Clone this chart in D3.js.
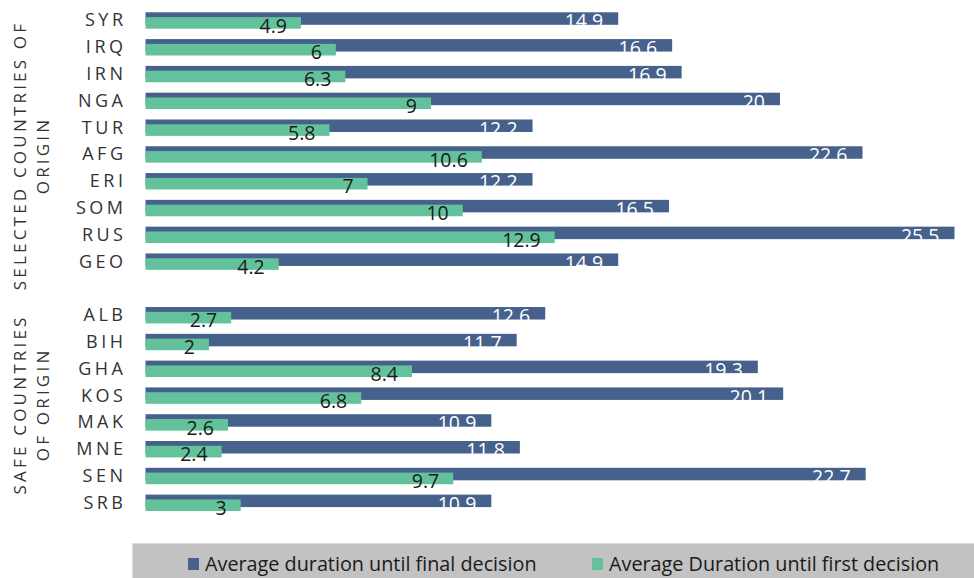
<!DOCTYPE html>
<html>
<head>
<meta charset="utf-8">
<script src="https://cdn.jsdelivr.net/npm/d3@7"></script>
<style>
  html, body { margin: 0; padding: 0; background: #fff; }
  svg { display: block; }
</style>
</head>
<body>
<svg id="chart" width="974" height="578"></svg>
<script>
// Asylum procedure durations (months) by country of origin
const selectedCountries = ["SYR", "IRQ", "IRN", "NGA", "TUR", "AFG", "ERI", "SOM", "RUS", "GEO"];
const selectedFinal = [14.9, 16.6, 16.9, 20, 12.2, 22.6, 12.2, 16.5, 25.5, 14.9];
const selectedFirst = [4.9, 6, 6.3, 9, 5.8, 10.6, 7, 10, 12.9, 4.2];

const safeCountries = ["ALB", "BIH", "GHA", "KOS", "MAK", "MNE", "SEN", "SRB"];
const safeFinal = [12.6, 11.7, 19.3, 20.1, 10.9, 11.8, 22.7, 10.9];
const safeFirst = [2.7, 2, 8.4, 6.8, 2.6, 2.4, 9.7, 3];

const groupTitles = [["SELECTED COUNTRIES OF", "ORIGIN"], ["SAFE COUNTRIES", "OF ORIGIN"]];
const seriesNames = ["Average duration until final decision", "Average Duration until first decision"];

const COLOR_FINAL = "#46618c";
const COLOR_FIRST = "#63c29b";
const FONT = "'Open Sans', 'DejaVu Sans', sans-serif";

// rows, with an empty spacer slot between the two groups
const rows = [];
selectedCountries.forEach((c, i) => rows.push({ key: c, label: c, final: selectedFinal[i], first: selectedFirst[i], group: 0 }));
rows.push({ key: "__gap", spacer: true });
safeCountries.forEach((c, i) => rows.push({ key: c, label: c, final: safeFinal[i], first: safeFirst[i], group: 1 }));
const data = rows.filter(r => !r.spacer);

const svg = d3.select("#chart");

const y = d3.scaleBand().domain(rows.map(r => r.key)).range([7.1, 516.2]).padding(0);
const x = d3.scaleLinear().domain([0, 25.5]).range([145.5, 954.5]);
const bw = y.bandwidth();
const mid = d => y(d.key) + bw / 2;

// category labels (letter-spaced, right aligned)
svg.append("g").selectAll("text").data(data).join("text")
  .attr("x", 126.5)
  .attr("y", d => mid(d) + 6)
  .attr("text-anchor", "end")
  .style("font-family", FONT)
  .style("font-size", "18px")
  .style("letter-spacing", "3.5px")
  .style("fill", "#333")
  .text(d => d.label);

// rotated group titles
[0, 1].forEach(g => {
  const members = data.filter(d => d.group === g);
  const cy = (y(members[0].key) + y(members[members.length - 1].key) + bw) / 2 + (g === 0 ? 16 : -3);
  const t = svg.append("text")
    .attr("transform", `translate(32,${cy}) rotate(-90)`)
    .attr("text-anchor", "middle")
    .style("font-family", FONT)
    .style("font-size", "17px")
    .style("letter-spacing", "3.2px")
    .style("fill", "#333");
  groupTitles[g].forEach((line, i) => {
    t.append("tspan").attr("x", 1.6).attr("y", i === 0 ? -6 : 17).text(line);
  });
});

// bars: final decision (back), first decision (front, shifted down)
svg.append("g").selectAll("rect").data(data).join("rect")
  .attr("x", x(0))
  .attr("y", d => mid(d) - 8.2)
  .attr("width", d => x(d.final) - x(0))
  .attr("height", 12.5)
  .attr("fill", COLOR_FINAL);

svg.append("g").selectAll("rect").data(data).join("rect")
  .attr("x", x(0))
  .attr("y", d => mid(d) - 3.4)
  .attr("width", d => x(d.first) - x(0))
  .attr("height", 11.6)
  .attr("fill", COLOR_FIRST);

// value labels, inside the bar end
svg.append("g").selectAll("text").data(data).join("text")
  .attr("x", d => x(d.final) - 15)
  .attr("y", d => mid(d) + 8)
  .attr("text-anchor", "end")
  .style("font-family", FONT)
  .style("font-size", "19.5px")
  .style("fill", "#ffffff")
  .text(d => d.final);

svg.append("g").selectAll("text").data(data).join("text")
  .attr("x", d => x(d.first) - 14)
  .attr("y", d => mid(d) + 12.2)
  .attr("text-anchor", "end")
  .style("font-family", FONT)
  .style("font-size", "19.5px")
  .style("fill", "#1a1a1a")
  .text(d => d.first);

// legend band
const legend = svg.append("g");
legend.append("rect")
  .attr("x", 132.5).attr("y", 543.5)
  .attr("width", 845).attr("height", 40)
  .attr("fill", "#c2c2c2")
  .attr("stroke", "#dcdcdc");

const legendItems = [
  { name: seriesNames[0], color: COLOR_FINAL, sx: 188, tx: 205 },
  { name: seriesNames[1], color: COLOR_FIRST, sx: 592, tx: 609 }
];
legendItems.forEach(it => {
  legend.append("rect").attr("x", it.sx).attr("y", 558).attr("width", 11).attr("height", 12).attr("fill", it.color);
  legend.append("text")
    .attr("x", it.tx).attr("y", 571)
    .style("font-family", FONT)
    .style("font-size", "19.8px")
    .style("fill", "#1a1a1a")
    .text(it.name);
});
</script>
</body>
</html>
